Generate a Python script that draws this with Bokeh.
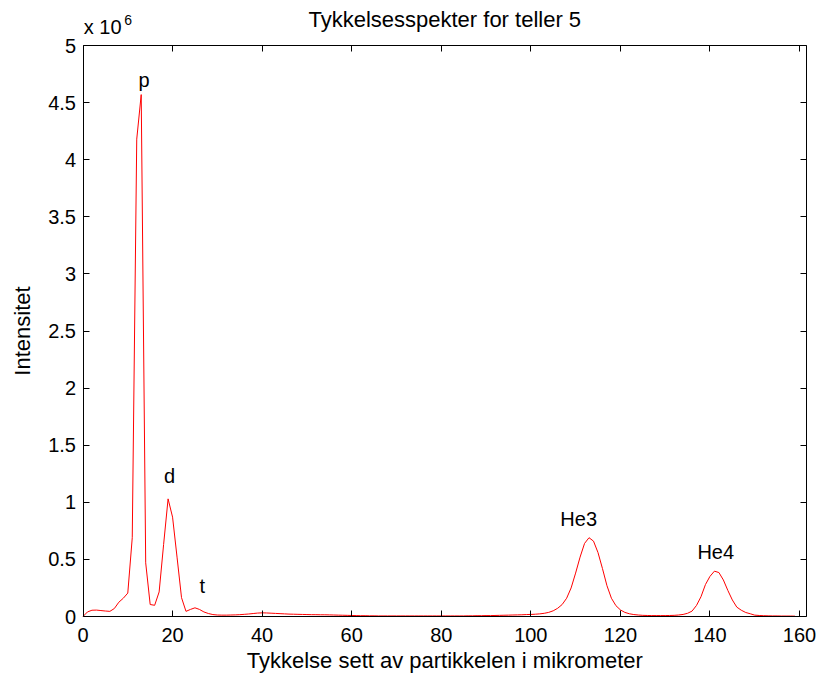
from bokeh.plotting import figure
from bokeh.models import LinearAxis, FixedTicker, Range1d, Label
from bokeh.embed import file_html
from bokeh.resources import INLINE

# ---------------- data (intensity in units of 1e6) ----------------
thickness = list(range(160))
intensity = [
    0.000, 0.040, 0.055, 0.056, 0.052, 0.048, 0.045, 0.070, 0.125, 0.160,   # 0-9
    0.205, 0.690, 4.180, 4.570, 0.470, 0.105, 0.098, 0.215, 0.630, 1.030,   # 10-19
    0.870, 0.520, 0.165, 0.045, 0.062, 0.076, 0.062, 0.040, 0.026, 0.017,   # 20-29
    0.013, 0.012, 0.012, 0.013, 0.014, 0.016, 0.019, 0.022, 0.026, 0.030,   # 30-39
    0.032, 0.031, 0.029, 0.027, 0.025, 0.023, 0.021, 0.020, 0.019, 0.018,   # 40-49
    0.017, 0.016, 0.016, 0.015, 0.015, 0.014, 0.013, 0.012, 0.011, 0.010,   # 50-59
    0.009, 0.008, 0.007, 0.007, 0.006, 0.006, 0.005, 0.005, 0.005, 0.005,   # 60-69
    0.005, 0.005, 0.005, 0.005, 0.005, 0.005, 0.005, 0.005, 0.005, 0.005,   # 70-79
    0.005, 0.005, 0.005, 0.005, 0.005, 0.005, 0.006, 0.006, 0.007, 0.007,   # 80-89
    0.008, 0.008, 0.009, 0.010, 0.011, 0.012, 0.013, 0.014, 0.015, 0.017,   # 90-99
    0.018, 0.020, 0.023, 0.028, 0.036, 0.050, 0.072, 0.105, 0.160, 0.250,   # 100-109
    0.380, 0.520, 0.640, 0.690, 0.660, 0.560, 0.420, 0.270, 0.160, 0.095,   # 110-119
    0.058, 0.036, 0.024, 0.017, 0.013, 0.010, 0.009, 0.008, 0.008, 0.008,   # 120-129
    0.008, 0.009, 0.010, 0.013, 0.018, 0.028, 0.047, 0.097, 0.173, 0.280,   # 130-139
    0.351, 0.397, 0.385, 0.320, 0.228, 0.145, 0.082, 0.055, 0.035, 0.024,   # 140-149
    0.012, 0.009, 0.007, 0.006, 0.005, 0.005, 0.004, 0.004, 0.004, 0.003,   # 150-159
]

x_ticks = [0, 20, 40, 60, 80, 100, 120, 140, 160]
y_ticks = [0, 0.5, 1, 1.5, 2, 2.5, 3, 3.5, 4, 4.5, 5]
y_tick_labels = ["0", "0.5", "1", "1.5", "2", "2.5", "3", "3.5", "4", "4.5", "5"]

peak_names = ["p", "d", "t", "He3", "He4"]

title_text = "Tykkelsesspekter for teller 5"
x_label_text = "Tykkelse sett av partikkelen i mikrometer"
y_label_text = "Intensitet"

# ---------------- layout ----------------
W, H = 819, 673
X_MAX = 161.57          # right edge of the axes box (data units)
Y_MAX = 5.0             # top edge of the axes box
# the plotting frame covers the whole canvas; the axes box sits inside it
PX_X = (799.0 - 82.5) / 160.0      # canvas px per x unit
PX_Y = (616.0 - 45.0) / 5.0        # canvas px per y unit
X0 = -82.5 / PX_X
X1 = X0 + W / PX_X
Y1 = 616.0 / PX_Y
Y0 = Y1 - H / PX_Y

FONT = "Liberation Sans"
TICK_FS = "20px"
LABEL_FS = "22px"

p = figure(width=W, height=H,
           x_range=Range1d(X0, X1), y_range=Range1d(Y0, Y1),
           output_backend="svg", toolbar_location=None,
           x_axis_location=None, y_axis_location=None,
           min_border=0)
p.min_border_left = 0
p.min_border_right = 0
p.min_border_top = 0
p.min_border_bottom = 0
p.background_fill_color = "white"
p.border_fill_color = "white"
p.outline_line_color = None
for g in p.grid:
    g.visible = False


def make_axis(ticks, loc, bounds, show_labels, standoff):
    ax = LinearAxis(ticker=FixedTicker(ticks=ticks), fixed_location=loc, bounds=bounds)
    ax.major_tick_in = 6
    ax.major_tick_out = 0
    ax.minor_tick_in = 0
    ax.minor_tick_out = 0
    ax.axis_line_color = "black"
    ax.axis_line_width = 1
    ax.major_tick_line_color = "black"
    ax.major_label_text_font = FONT
    ax.major_label_text_font_size = TICK_FS
    ax.major_label_standoff = standoff
    ax.major_label_text_color = "black" if show_labels else None
    return ax


bottom_ax = make_axis(x_ticks, 0, (0, X_MAX), True, 11)
p.add_layout(bottom_ax, "below")

left_ax = make_axis(y_ticks, 0, (0, Y_MAX), True, 7)
left_ax.major_label_overrides = {t: s for t, s in zip(y_ticks, y_tick_labels)}
left_ax.axis_label = y_label_text
left_ax.axis_label_text_font = FONT
left_ax.axis_label_text_font_size = LABEL_FS
left_ax.axis_label_text_font_style = "normal"
left_ax.axis_label_text_color = "black"
left_ax.axis_label_standoff = 11
p.add_layout(left_ax, "left")

top_ax = make_axis(x_ticks, Y_MAX, (0, X_MAX), False, 0)
p.add_layout(top_ax, "above")
right_ax = make_axis(y_ticks, X_MAX, (0, Y_MAX), False, 0)
p.add_layout(right_ax, "right")

# ---------------- data line ----------------
p.line(thickness, intensity, line_color="#ff0000", line_width=1.0)

# ---------------- annotations ----------------
def add_text(x, y, text, size, align="left"):
    p.add_layout(Label(x=x, y=y, text=text, text_font=FONT, text_font_size=size,
                       text_color="black", text_align=align, text_baseline="alphabetic"))


peak_label_pos = [(12.4, 4.700), (18.1, 1.232), (26.0, 0.263), (106.6, 0.858), (137.2, 0.569)]
for name, (lx, ly) in zip(peak_names, peak_label_pos):
    add_text(lx, ly, name, TICK_FS)

mid_x = X_MAX / 2
add_text(mid_x, 5.226, title_text, LABEL_FS, "center")          # title
add_text(mid_x, -0.387, x_label_text, LABEL_FS, "center")        # x-axis label
add_text(0.18, 5.158, "x 10", TICK_FS)                           # exponent
add_text(9.2, 5.224, "6", "14px")

open("out.html", "w").write(file_html(p, INLINE))
